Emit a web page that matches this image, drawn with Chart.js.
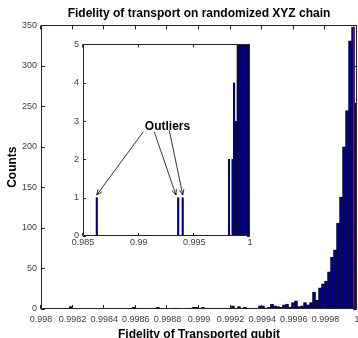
<!DOCTYPE html>
<html>
<head>
<meta charset="utf-8">
<script src="https://cdn.jsdelivr.net/npm/chart.js@4/dist/chart.umd.min.js"></script>
<style>
  html, body { margin: 0; padding: 0; background: #fff; }
  #wrap { position: relative; width: 358px; height: 338px; overflow: hidden; }
  #main { position: absolute; left: 0; top: 0; }
  #inset { position: absolute; left: 60px; top: 35px; }
</style>
</head>
<body>
<div id="wrap">
  <canvas id="main" width="358" height="338"></canvas>
  <canvas id="inset" width="200" height="220"></canvas>
</div>
<script>
// main histogram: equal bins, first bin centred at binStart
const binStart = 0.998018;
const binWidth = 0.000019;
const counts = [
  0, 0, 0, 0, 0, 0, 0, 0, 0, 3,
  0, 0, 0, 0, 0, 0, 0, 0, 0, 0,
  0, 0, 0, 0, 0, 0, 0, 0, 0, 1,
  2, 1, 0, 1, 0, 1, 0, 1, 2, 0,
  0, 1, 0, 1, 1, 1, 0, 0, 1, 1,
  2, 2, 1, 2, 1, 1, 0, 1, 1, 0,
  1, 1, 0, 4, 1, 3, 1, 2, 1, 1,
  1, 1, 4, 4, 1, 2, 6, 4, 3, 2,
  5, 6, 2, 8, 10, 3, 4, 8, 5, 8,
  21, 11, 26, 31, 34, 46, 64, 73, 106, 138,
  200, 245, 331, 348, 254
];
const xTicks = [0.998, 0.9982, 0.9984, 0.9986, 0.9988, 0.999, 0.9992, 0.9994, 0.9996, 0.9998, 1];
const yTicks = [0, 50, 100, 150, 200, 250, 300, 350];
const refLine = 0.99998; // red marker

// inset: the whole range, clipped at 5 counts
const insetBins = [0.98623, 0.99356, 0.99395, 0.99811, 0.99827, 0.99843, 0.99858, 0.99873,
                   0.99889, 0.99904, 0.99919, 0.99934, 0.9995, 0.99965, 0.9998, 0.99995];
const insetCounts = [1, 1, 1, 2, 0, 2, 4, 3, 6, 8, 9, 14, 20, 50, 420, 2100];
const insetXTicks = [0.985, 0.99, 0.995, 1];
const insetYTicks = [0, 1, 2, 3, 4, 5];

// annotation in inset data coordinates
const noteText = "Outliers";
const notePos = [0.99259, 2.86];
const arrowFrom = [[0.99042, 2.72], [0.9914, 2.72], [0.99275, 2.76]];
const arrowTo = [[0.98623, 1.07], [0.99335, 1.07], [0.99396, 1.07]];

const FONT = "'Liberation Sans', Arial, Helvetica, sans-serif";
Chart.defaults.font.family = FONT;

// matlab-ish box with inward ticks on all four sides
const boxTicks = {
  id: "boxTicks",
  afterDatasetsDraw(chart, args, opts) {
    const { ctx, chartArea: a, scales: { x, y } } = chart;
    const len = opts.len || 4;
    ctx.save();
    ctx.strokeStyle = "#262626";
    ctx.lineWidth = 1;
    ctx.beginPath();
    ctx.rect(Math.round(a.left) + 0.5, Math.round(a.top) + 0.5,
             Math.round(a.right - a.left) - 1, Math.round(a.bottom - a.top) - 1);
    x.ticks.forEach(t => {
      const px = Math.round(x.getPixelForValue(t.value)) - 0.5;
      ctx.moveTo(px, a.bottom); ctx.lineTo(px, a.bottom - len);
      ctx.moveTo(px, a.top); ctx.lineTo(px, a.top + len);
    });
    y.ticks.forEach(t => {
      const py = Math.round(y.getPixelForValue(t.value)) + 0.5;
      ctx.moveTo(a.left, py); ctx.lineTo(a.left + len, py);
      ctx.moveTo(a.right, py); ctx.lineTo(a.right - len, py);
    });
    ctx.stroke();
    ctx.restore();
  }
};

const fmt = v => String(+Number(v).toFixed(4));

new Chart(document.getElementById("main"), {
  type: "bar",
  data: {
    datasets: [
      {
        type: "line",
        data: [{ x: refLine, y: 0 }, { x: refLine, y: 350 }],
        borderColor: "#ff0000",
        borderWidth: 1,
        pointRadius: 0,
        order: 0
      },
      {
        data: counts.map((c, i) => ({ x: binStart + i * binWidth, y: c })),
        backgroundColor: "#000087",
        borderColor: "#000000",
        borderWidth: 0.5,
        barPercentage: 1,
        categoryPercentage: 1,
        order: 1
      }
    ]
  },
  options: {
    responsive: false,
    animation: false,
    devicePixelRatio: 1,
    layout: { padding: { top: 0, right: 1, bottom: 0, left: 0 } },
    plugins: {
      legend: { display: false },
      tooltip: { enabled: false },
      title: {
        display: true,
        fullSize: false,
        text: "Fidelity of transport on randomized XYZ chain",
        color: "#000",
        font: { size: 12, weight: "bold" },
        padding: { top: 6, bottom: 5 }
      },
      boxTicks: { len: 4 }
    },
    scales: {
      x: {
        type: "linear",
        min: 0.998,
        max: 1,
        offset: false,
        grid: { display: false, drawTicks: false },
        border: { display: false },
        afterBuildTicks: s => { s.ticks = xTicks.map(v => ({ value: v })); },
        afterFit: s => { s.height = 29; s.paddingLeft = 0; s.paddingRight = 0; },
        ticks: { color: "#404040", font: { size: 9 }, padding: 5, maxRotation: 0, autoSkip: false, callback: fmt },
        title: {
          display: true,
          text: "Fidelity of Transported qubit",
          color: "#000",
          font: { size: 12, weight: "bold" },
          padding: { top: 0, bottom: -4 }
        }
      },
      y: {
        min: 0,
        max: 350,
        grid: { display: false, drawTicks: false },
        border: { display: false },
        afterBuildTicks: s => { s.ticks = yTicks.map(v => ({ value: v })); },
        afterFit: s => { s.width = 41; },
        ticks: { color: "#404040", font: { size: 9 }, padding: 4 },
        title: {
          display: true,
          text: "Counts",
          color: "#000",
          font: { size: 12, weight: "bold" },
          padding: { top: 5, bottom: 0 }
        }
      }
    }
  },
  plugins: [boxTicks]
});

const outlierNote = {
  id: "outlierNote",
  afterDraw(chart) {
    const { ctx, scales: { x, y } } = chart;
    ctx.save();
    ctx.fillStyle = "#000";
    ctx.font = "bold 12px " + FONT;
    ctx.textAlign = "center";
    ctx.textBaseline = "middle";
    ctx.fillText(noteText, x.getPixelForValue(notePos[0]), y.getPixelForValue(notePos[1]));
    ctx.strokeStyle = "#000";
    ctx.lineWidth = 0.8;
    arrowFrom.forEach((f, i) => {
      const x0 = x.getPixelForValue(f[0]), y0 = y.getPixelForValue(f[1]);
      const x1 = x.getPixelForValue(arrowTo[i][0]), y1 = y.getPixelForValue(arrowTo[i][1]);
      const ang = Math.atan2(y1 - y0, x1 - x0);
      ctx.beginPath();
      ctx.moveTo(x0, y0);
      ctx.lineTo(x1, y1);
      [-0.4, 0.4].forEach(d => {
        ctx.moveTo(x1, y1);
        ctx.lineTo(x1 - 6 * Math.cos(ang + d), y1 - 6 * Math.sin(ang + d));
      });
      ctx.stroke();
    });
    ctx.restore();
  }
};

new Chart(document.getElementById("inset"), {
  type: "bar",
  data: {
    datasets: [{
      data: insetBins.map((b, i) => ({ x: b, y: insetCounts[i] })),
      backgroundColor: "#000087",
      borderColor: "#000000",
      borderWidth: 0.4,
      barPercentage: 1,
      categoryPercentage: 1,
      clip: 0
    }]
  },
  options: {
    responsive: false,
    animation: false,
    devicePixelRatio: 1,
    layout: { padding: { top: 9, right: 10, bottom: 0, left: 0 } },
    plugins: {
      legend: { display: false },
      tooltip: { enabled: false },
      boxTicks: { len: 3 }
    },
    scales: {
      x: {
        type: "linear",
        min: 0.985,
        max: 1,
        offset: false,
        grid: { display: false, drawTicks: false },
        border: { display: false },
        afterBuildTicks: s => { s.ticks = insetXTicks.map(v => ({ value: v })); },
        afterFit: s => { s.height = 19; s.paddingLeft = 0; s.paddingRight = 0; },
        ticks: { color: "#404040", font: { size: 9 }, padding: 1, maxRotation: 0, autoSkip: false, callback: fmt }
      },
      y: {
        min: 0,
        max: 5,
        grid: { display: false, drawTicks: false },
        border: { display: false },
        afterBuildTicks: s => { s.ticks = insetYTicks.map(v => ({ value: v })); },
        afterFit: s => { s.width = 23; },
        ticks: { color: "#404040", font: { size: 9 }, padding: 4 }
      }
    }
  },
  plugins: [boxTicks, outlierNote]
});
</script>
</body>
</html>
